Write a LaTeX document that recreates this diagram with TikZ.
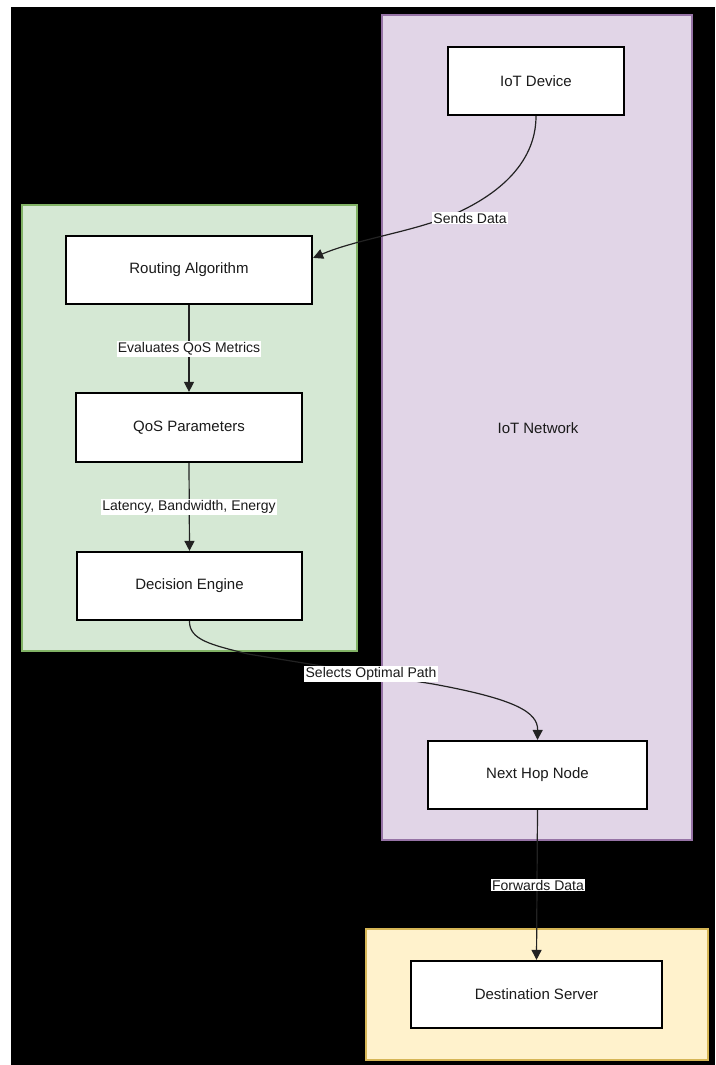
\documentclass[tikz,border=0pt]{standalone}
\usepackage{fontspec}
\setmainfont{Liberation Sans}
\usetikzlibrary{arrows.meta}

\definecolor{netfill}{HTML}{E1D5E7}
\definecolor{netline}{HTML}{9673A6}
\definecolor{algfill}{HTML}{D5E8D4}
\definecolor{algline}{HTML}{82B366}
\definecolor{srvfill}{HTML}{FFF2CC}
\definecolor{srvline}{HTML}{D6B656}
\definecolor{edgecol}{HTML}{222222}
\definecolor{txtcol}{HTML}{1A1A1A}

\tikzset{
  cluster/.style={line width=2pt},
  procbox/.style={draw=black, fill=white, line width=2.2pt, inner sep=0pt,
    text=txtcol, font=\fontsize{15}{18}\selectfont},
  flow/.style={draw=edgecol, line width=1.2pt,
    -{Triangle[length=10pt,width=10pt]}},
  edgelabel/.style={fill=white, inner sep=1.2pt, text=txtcol,
    font=\fontsize{14}{16}\selectfont},
  clusterlabel/.style={text=txtcol, font=\fontsize{15}{18}\selectfont}
}

\begin{document}
\begin{tikzpicture}[x=1pt, y=-1pt]
  \useasboundingbox (0,0) rectangle (715,1065);
  \fill[white] (0,0) rectangle (715,1065);
  \fill[black] (11,7) rectangle (715,1065);

  % groups
  \draw[cluster, draw=netline, fill=netfill] (382,15) rectangle (692,840);
  \draw[cluster, draw=algline, fill=algfill] (22,205) rectangle (357,651);
  \draw[cluster, draw=srvline, fill=srvfill] (366,929) rectangle (708,1060);
  \node[clusterlabel] (netlbl) at (538,428) {IoT Network};

  % process boxes
  \node[procbox, minimum width=176pt, minimum height=68pt] (iot) at (536,81) {IoT Device};
  \node[procbox, minimum width=246pt, minimum height=68pt] (route) at (189,270) {Routing Algorithm};
  \node[procbox, minimum width=226pt, minimum height=69pt] (qos) at (189,427.5) {QoS Parameters};
  \node[procbox, minimum width=225pt, minimum height=68pt] (dec) at (189.5,586) {Decision Engine};
  \node[procbox, minimum width=219pt, minimum height=68pt] (hop) at (537.5,775) {Next Hop Node};
  \node[procbox, minimum width=251pt, minimum height=67pt] (dst) at (536.5,994.5) {Destination Server};

  % connectors
  \coordinate (routein) at ([yshift=-23pt]route.north east);
  \draw[flow] (iot.south) .. controls (536,165) and (495,198) .. (445,218)
     .. controls (405,233) and (355,240) .. (routein);
  \node[edgelabel] (l1) at (470,218) {Sends Data};

  \draw[flow] (route.south) -- (qos.north);
  \node[edgelabel] (l2) at (189,349) {Evaluates QoS Metrics};

  \draw[flow] (qos.south) -- (dec.north);
  \node[edgelabel] (l3) at (189,507) {Latency, Bandwidth, Energy};

  \draw[flow] (dec.south) .. controls (189,640) and (212,645) .. (248,654)
     -- (433,684) .. controls (515,699) and (538,712) .. (hop.north);
  \node[edgelabel] (l4) at (371,674) {Selects Optimal Path};

  \draw[flow] (hop.south) -- (dst.north);
  \node[edgelabel] (l5) at (538,885) {Forwards Data};
\end{tikzpicture}
\end{document}
